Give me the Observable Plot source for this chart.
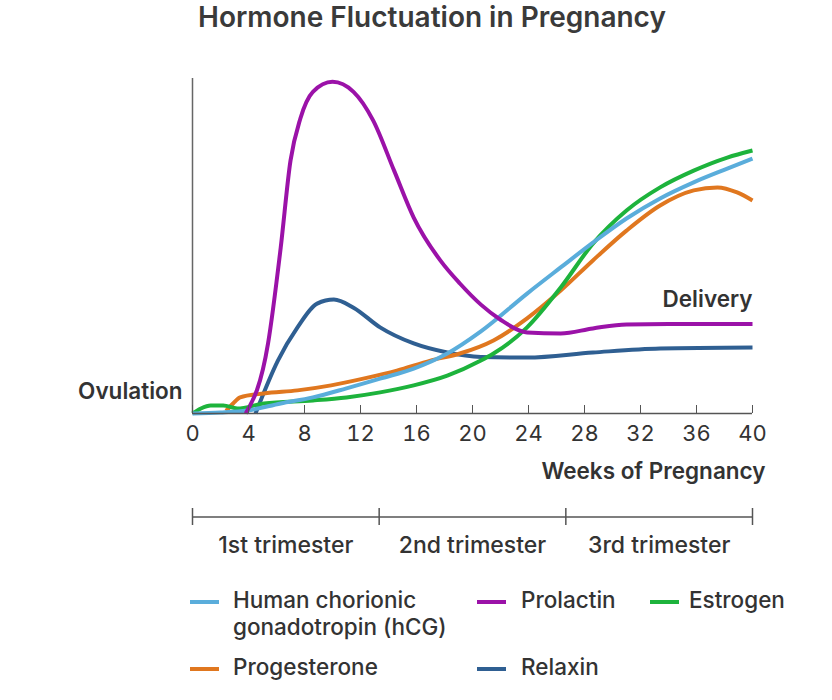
<!DOCTYPE html>
<html><head><meta charset="utf-8">
<script src="https://cdn.jsdelivr.net/npm/d3@7"></script>
<script src="https://cdn.jsdelivr.net/npm/@observablehq/plot@0.6"></script>
<style>
body{margin:0;background:#fff;font-family:Inter,"Liberation Sans",sans-serif;color:#333;}
#wrap{position:relative;width:832px;height:700px;overflow:hidden;}
#title{position:absolute;left:198px;top:-1px;font-size:28px;font-weight:600;line-height:36px;white-space:nowrap;color:#3a3a3a;}
#main{position:absolute;left:0;top:0;}
#tri{position:absolute;left:0;top:490px;}
.leg{position:absolute;font-size:22.5px;font-weight:500;line-height:27px;color:#333;white-space:nowrap;}
.sw{position:absolute;height:4px;width:29px;}
</style>
</head><body>
<div id="wrap">
  <div id="title">Hormone Fluctuation in Pregnancy</div>
  <div id="main"></div>
  <div id="tri"></div>
  <div id="legend"></div>
</div>
<script>
// ---- data (weeks, relative level) ----
const hcgWeeks = [0, 2, 3.9, 6.3, 8.6, 11, 13.4, 15.8, 18.2, 20.6, 23.9, 26.3, 28.6, 31, 33.4, 35.8, 38.2, 40];
const hcgVals  = [0, 0.3, 0.9, 3, 4.8, 7.5, 10.4, 13.4, 17.9, 24.5, 35.8, 43.6, 51, 58.2, 64.2, 69, 73.1, 76.1];

const prolactinWeeks = [3.8, 5.4, 6.3, 7, 7.7, 8.6, 10, 11.5, 12.9, 14.4, 15.8, 17.7, 19.1, 20.6, 22, 23.9, 26.3, 28.6, 31, 34, 40];
const prolactinVals  = [0, 21, 49.5, 75.5, 88, 96, 99, 96, 87.5, 72.5, 58.5, 45.7, 38.8, 32.5, 28, 24.2, 23.9, 25.4, 26.6, 26.7, 26.7];

const estrogenWeeks = [0, 0.6, 1.3, 2.2, 3.2, 5.1, 8.6, 11, 13.4, 15.8, 18.2, 20.6, 21.5, 23.9, 26.3, 28.6, 31, 33.4, 35.8, 38.2, 40];
const estrogenVals  = [0, 1.5, 2.4, 2.4, 1.5, 3, 3.9, 4.8, 6.3, 8.4, 11.3, 15.8, 17.9, 25.7, 37.6, 50.7, 60.6, 67.5, 72.5, 76.4, 78.5];

const progesteroneWeeks = [2.4, 2.9, 3.4, 5.1, 7.5, 9.9, 12.2, 14.6, 17, 19.1, 21.5, 23.9, 26.3, 28.6, 31, 33.4, 35.8, 37.5, 38.9, 40];
const progesteroneVals  = [0.8, 3, 4.8, 6, 6.9, 8.4, 10.4, 12.8, 15.8, 17.9, 21.8, 28.4, 36.7, 45.7, 54.6, 62.1, 66.6, 67.5, 66, 63.6];

const relaxinWeeks = [4.5, 6.1, 7.5, 8.9, 10.1, 11.5, 13.4, 15.8, 18.2, 20.6, 23.9, 28.6, 33.4, 40];
const relaxinVals  = [0, 15.8, 25.7, 32.8, 34, 31.6, 25.7, 20.9, 18.2, 16.9, 16.7, 18.2, 19.4, 19.7];

const hormoneNames  = ["Relaxin", "Progesterone", "Estrogen", "hCG", "Prolactin"];
const hormoneColors = ["#2f5f92", "#e0771f", "#1db33c", "#5aaddb", "#9b12a8"];

const xTicks = [0, 4, 8, 12, 16, 20, 24, 28, 32, 36, 40];
const trimesterBounds = [0, 40/3, 80/3, 40];
const trimesterLabels = ["1st trimester", "2nd trimester", "3rd trimester"];

const legendItems = [
  {label: "Human chorionic<br>gonadotropin (hCG)", key: "hCG"},
  {label: "Prolactin", key: "Prolactin"},
  {label: "Estrogen", key: "Estrogen"},
  {label: "Progesterone", key: "Progesterone"},
  {label: "Relaxin", key: "Relaxin"}
];

// ---- build table ----
const series = {
  Relaxin: [relaxinWeeks, relaxinVals],
  Progesterone: [progesteroneWeeks, progesteroneVals],
  Estrogen: [estrogenWeeks, estrogenVals],
  hCG: [hcgWeeks, hcgVals],
  Prolactin: [prolactinWeeks, prolactinVals]
};
const rows = [];
for (const name of hormoneNames) {
  const [w, v] = series[name];
  w.forEach((wk, i) => rows.push({hormone: name, week: wk, level: v[i]}));
}
const colorOf = Object.fromEntries(hormoneNames.map((n, i) => [n, hormoneColors[i]]));

const main = Plot.plot({
  width: 832,
  height: 490,
  marginLeft: 192,
  marginRight: 80,
  marginTop: 78,
  marginBottom: 77,
  style: {fontFamily: "Inter, 'Liberation Sans', sans-serif", color: "#333", background: "transparent"},
  x: {domain: [0, 40]},
  y: {domain: [0, 100], axis: null},
  color: {domain: hormoneNames, range: hormoneColors},
  marks: [
    Plot.ruleX([0], {stroke: "#666", strokeWidth: 1.5}),
    Plot.line(rows, {x: "week", y: "level", z: "hormone", stroke: "hormone", strokeWidth: 4, curve: "monotone-x", strokeLinecap: "butt"}),
    Plot.ruleY([0], {stroke: "#555", strokeWidth: 1.5}),
    Plot.axisX({ticks: xTicks, tickSize: -8, tickPadding: 20, tickFormat: d => d, fontSize: 22, fill: "#333", stroke: "#555", label: null}),
    Plot.text(["Ovulation"], {x: 0, y: 0, text: d => d, textAnchor: "end", dx: -10, dy: -22, fontSize: 22.5, fontWeight: 600, fill: "#333"}),
    Plot.text(["Delivery"], {x: 40, y: 34, text: d => d, textAnchor: "end", fontSize: 22.5, fontWeight: 600, fill: "#333"}),
    Plot.text(["Weeks of Pregnancy"], {x: 40, y: 0, text: d => d, textAnchor: "end", dx: 13, dy: 58, fontSize: 22.5, fontWeight: 600, fill: "#333"})
  ]
});
document.getElementById("main").append(main);

const trimesters = trimesterLabels.map((t, i) => ({label: t, mid: (trimesterBounds[i] + trimesterBounds[i+1]) / 2}));
const tri = Plot.plot({
  width: 832,
  height: 80,
  marginLeft: 192,
  marginRight: 80,
  marginTop: 18,
  marginBottom: 45,
  style: {fontFamily: "Inter, 'Liberation Sans', sans-serif", background: "transparent"},
  x: {domain: [0, 40], axis: null},
  y: {domain: [0, 1], axis: null},
  marks: [
    Plot.ruleY([0.5], {stroke: "#555", strokeWidth: 1.5}),
    Plot.tickX(trimesterBounds, {x: d => d, stroke: "#555", strokeWidth: 1.5}),
    Plot.text(trimesters, {x: "mid", y: 0, text: "label", dy: 20, fontSize: 23, fontWeight: 500, fill: "#333"})
  ]
});
document.getElementById("tri").append(tri);

// ---- legend ----
const legPos = [
  {sx: 190, tx: 233, y: 586},
  {sx: 477, tx: 521, y: 586},
  {sx: 650, tx: 689, y: 586},
  {sx: 190, tx: 233, y: 653},
  {sx: 477, tx: 521, y: 653}
];
const leg = document.getElementById("legend");
legendItems.forEach((it, i) => {
  const p = legPos[i];
  const sw = document.createElement("div");
  sw.className = "sw";
  sw.style.left = p.sx + "px";
  sw.style.top = (p.y + 14) + "px";
  sw.style.background = colorOf[it.key];
  leg.append(sw);
  const t = document.createElement("div");
  t.className = "leg";
  t.style.left = p.tx + "px";
  t.style.top = p.y + "px";
  t.innerHTML = it.label;
  leg.append(t);
});
</script>
</body></html>
